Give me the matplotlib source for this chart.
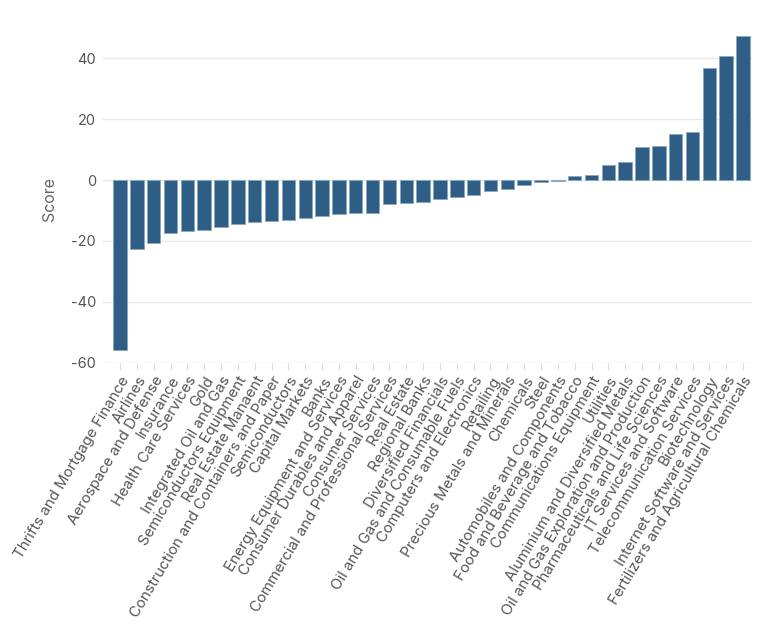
import matplotlib
matplotlib.use("Agg")
import matplotlib.pyplot as plt

categories = [
    "Thrifts and Mortgage Finance", "Airlines", "Aerospace and Defense", "Insurance",
    "Health Care Services", "Gold", "Integrated Oil and Gas", "Semiconductors Equipment",
    "Real Estate Manaent", "Construction and Containers and Paper", "Semiconductors",
    "Capital Markets", "Banks", "Energy Equipment and Services",
    "Consumer Durables and Apparel", "Consumer Services",
    "Commercial and Professional Services", "Real Estate", "Regional Banks",
    "Diversified Financials", "Oil and Gas and Consumable Fuels",
    "Computers and Electronics", "Retailing", "Precious Metals and Minerals",
    "Chemicals", "Steel", "Automobiles and Components",
    "Food and Beverage and Tobacco", "Communications Equipment", "Utilities",
    "Aluminium and Diversified Metals", "Oil and Gas Exploration and Production",
    "Pharmaceuticals and Life Sciences", "IT Services and Software",
    "Telecommunication Services", "Biotechnology", "Internet Software and Services",
    "Fertilizers and Agricultural Chemicals",
]
scores = [
    -55.8, -22.5, -20.8, -17.5, -16.7, -16.4, -15.5, -14.3, -13.9, -13.5,
    -13.2, -12.5, -11.8, -11.3, -10.7, -10.7, -7.8, -7.55, -7.3, -6.3,
    -5.7, -5.0, -3.7, -2.8, -1.75, -0.8, -0.4, 1.3, 1.6, 4.9,
    5.9, 10.9, 11.3, 15.0, 15.9, 36.7, 40.6, 47.4,
]
yticks = [-60, -40, -20, 0, 20, 40]

plt.rcParams['font.family'] = ['Inter', 'DejaVu Sans']

fig = plt.figure(figsize=(7.7, 6.31), dpi=100)
ax = fig.add_axes([103 / 770, 1 - 362.7 / 631, (752 - 103) / 770, (362.7 - 35.7) / 631])

x = list(range(len(categories)))
ax.bar(x, scores, width=0.8, color="#2e5e86", edgecolor="#8aa8c0", linewidth=0.6, zorder=3)

ax.set_xlim(-1.01, len(categories) - 0.47)
ax.set_ylim(-60, 47.4)
ax.set_yticks(yticks)
ax.set_yticklabels([str(t) for t in yticks])
ax.set_xticks(x)
ax.set_xticklabels(categories, rotation=59, ha="right", rotation_mode="anchor")

ax.grid(axis="y", color="#e8e8e8", linewidth=1, zorder=0)
ax.grid(axis="x", visible=False)
for s in ax.spines.values():
    s.set_visible(False)

ax.tick_params(axis="y", length=0, pad=5, labelsize=10.5, labelcolor="#555555")
ax.tick_params(axis="x", length=5, width=0.8, color="#dddddd", pad=3,
               labelsize=10.8, labelcolor="#555555")
ax.set_ylabel("Score", fontsize=11.5, color="#666666", labelpad=10)

fig.savefig("out.png", dpi=100, facecolor="white")
